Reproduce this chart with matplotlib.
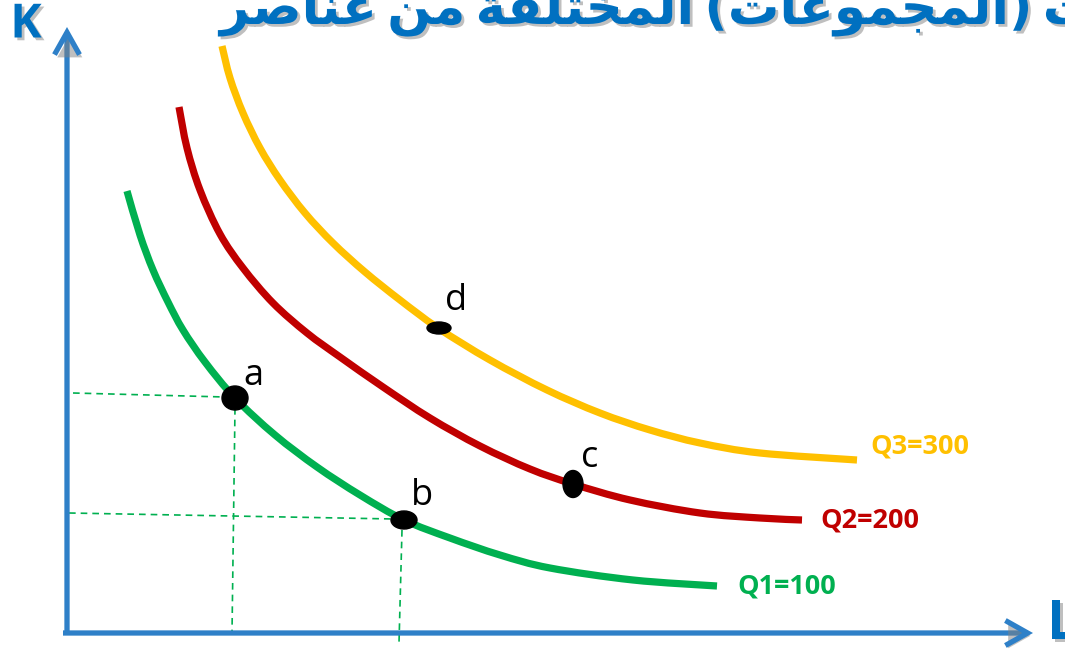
import matplotlib
matplotlib.use("Agg")
import matplotlib.pyplot as plt
import matplotlib.patheffects as pe
from matplotlib.patches import Ellipse, PathPatch
from matplotlib.path import Path
import numpy as np

# ---- data (L, K units measured from the origin of the axes) ----
q1_L = [60, 73, 86, 101, 116, 138, 168, 208, 250, 293, 337, 383, 433, 483, 566, 650]
q1_K = [442, 398, 363, 331, 303, 271, 235, 198, 166, 138, 113, 95, 78, 65, 53, 47]
q2_L = [112, 120, 133, 153, 176, 206, 240, 273, 316, 363, 413, 463, 506, 563, 633, 693, 735]
q2_K = [526, 485, 443, 399, 365, 330, 300, 276, 246, 215, 187, 164, 149, 133, 120, 115, 113]
q3_L = [155, 163, 176, 193, 213, 238, 266, 298, 333, 371, 423, 480, 533, 583, 633, 693, 790]
q3_K = [587, 555, 520, 485, 453, 420, 390, 361, 333, 305, 273, 243, 220, 203, 190, 180, 173]
curve_labels = ["Q1=100", "Q2=200", "Q3=300"]

point_names = ["a", "b", "c", "d"]
point_L = [168, 337, 506, 372]
point_K = [235, 113, 149, 305]

SP = "\u2009"
title_text = SP.join([
    "\uFEAE\uFEBB\uFE8E\uFEE8\uFECB",
    "\uFEE6\uFEE3",
    "\uFE94\uFED4\uFEE0\uFE98\uFEA8\uFEE4\uFEDF\uFE8D",
    "(\uFE95\uFE8E\uFECB\uFEEE\uFEE4\uFEA0\uFEE4\uFEDF\uFE8D)",
    "\uFE95\uFE8E\uFED4\uFEF4\uFEDF\uFEEE\uFE98\uFEDF\uFE8D",
])

GREEN, RED, YELLOW = "#00B050", "#C00000", "#FFC000"
AXBLUE, TBLUE = "#2E80C8", "#0070C0"

fig = plt.figure(figsize=(10.65, 6.51), dpi=100)
ax = fig.add_axes([0, 0, 1, 1])
ax.set_xlim(-67, 998)
ax.set_ylim(-18, 633)
ax.axis("off")


def smooth_path(xs, ys):
    """Cubic Bezier path through the given points (Catmull-Rom tangents)."""
    P = np.column_stack([xs, ys]).astype(float)
    n = len(P)
    verts = [P[0]]
    codes = [Path.MOVETO]
    for i in range(n - 1):
        p0 = P[i - 1] if i > 0 else P[i]
        p1, p2 = P[i], P[i + 1]
        p3 = P[i + 2] if i + 2 < n else P[i + 1]
        verts += [p1 + (p2 - p0) / 6.0, p2 - (p3 - p1) / 6.0, p2]
        codes += [Path.CURVE4] * 3
    return Path(verts, codes)


# axes arrows
arr = dict(arrowstyle="->,head_length=0.8,head_width=0.45", lw=3.8, color=AXBLUE,
           shrinkA=0, shrinkB=0, mutation_scale=20, capstyle="butt", joinstyle="miter")
a1 = ax.annotate("", xy=(0, 606), xytext=(0, -2), arrowprops=arr)
a2 = ax.annotate("", xy=(966, 0), xytext=(-4, 0), arrowprops=arr)
for a in (a1, a2):
    a.arrow_patch.set_path_effects([pe.SimplePatchShadow(offset=(2, -2), shadow_rgbFace="gray", alpha=0.5), pe.Normal()])

# dashed guides
pa_L, pa_K = point_L[0], point_K[0]
pb_L, pb_K = point_L[1], point_K[1]
gd = dict(color=GREEN, lw=1.2, ls=(0, (4, 3)))
ax.plot([6, pa_L - 10], [240, pa_K + 1], **gd)
ax.plot([pa_L, pa_L - 3], [pa_K - 10, 0], **gd)
ax.plot([2, pb_L - 10], [120, pb_K + 1], **gd)
ax.plot([pb_L - 2, pb_L - 5], [pb_K - 10, -10], **gd)

# curves
for Ls, Ks, c in [(q1_L, q1_K, GREEN), (q2_L, q2_K, RED), (q3_L, q3_K, YELLOW)]:
    ax.add_patch(PathPatch(smooth_path(Ls, Ks), facecolor="none", edgecolor=c, lw=5.2,
                           capstyle="butt", joinstyle="round"))

# curve labels
lab_pos = [(670, 47), (753, 113), (803, 187)]
for txt, (x, y), c in zip(curve_labels, lab_pos, [GREEN, RED, YELLOW]):
    ax.text(x, y, txt, color=c, fontsize=19.5, fontweight="bold", family="Open Sans",
            ha="left", va="center")

# points
sizes = [(26, 24), (26, 18), (20, 27), (24, 12)]
for Lp, Kp, (w, h) in zip(point_L, point_K, sizes):
    ax.add_patch(Ellipse((Lp, Kp), w, h, color="black", zorder=5))
off = [(18, 22), (18, 24), (17, 26), (17, 27)]
for n, Lp, Kp, (dx, dy) in zip(point_names, point_L, point_K, off):
    ax.text(Lp + dx, Kp + dy, n, fontsize=26, family="Open Sans", ha="center", va="center",
            color="black")

# axis labels
tshadow = [pe.SimplePatchShadow(offset=(2, -2), shadow_rgbFace="gray", alpha=0.5), pe.Normal()]
ax.text(-41, 608, "K", color=TBLUE, fontsize=34, fontweight="bold", family="Open Sans",
        ha="center", va="center", path_effects=tshadow)
ax.text(980, 8, "L", color=TBLUE, fontsize=39, fontweight="bold", family="Open Sans",
        ha="left", va="center", path_effects=tshadow)

# title (cut off at top)
ax.text(220 - 67, 609, title_text, color=TBLUE, fontsize=37, fontweight="bold", family="DejaVu Sans",
        ha="left", va="baseline", path_effects=tshadow)

fig.savefig("out.png", dpi=100)
